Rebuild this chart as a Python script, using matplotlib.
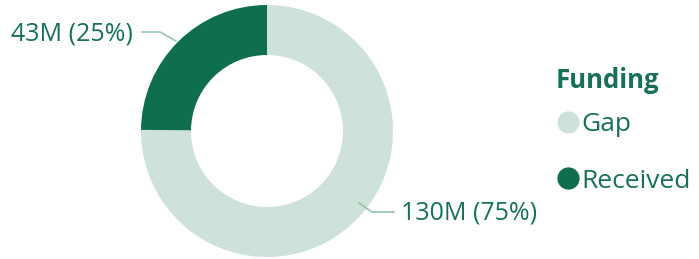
import matplotlib.pyplot as plt
from matplotlib.lines import Line2D

plt.rcParams['font.family'] = ['Open Sans', 'DejaVu Sans']

# Data
categories = ["Gap", "Received"]
values = [130, 43]          # millions
colors = ["#cfe2d9", "#0e6e4e"]
text_color = "#17705a"
line_color = "#93c4ae"

W, H = 699, 259
fig = plt.figure(figsize=(W / 100, H / 100), dpi=100)
ax = fig.add_axes([0, 0, 1, 1])

# Donut
cx, cy = 267, H - 131
wedges, _ = ax.pie(values, colors=colors, startangle=90, counterclock=False,
                   radius=126, center=(cx, cy), frame=True,
                   wedgeprops=dict(width=50, linewidth=0))
ax.set_xlim(0, W)
ax.set_ylim(0, H)
ax.set_aspect('equal')
ax.axis('off')

total = sum(values)
labels = [f"{v}M ({v / total:.0%})" for v in values]

# Leader lines + labels (pixel positions)
# Received (top-left)
ax.plot([176, 160, 142], [H - 41, H - 32, H - 32], color=line_color, lw=1.2)
ax.text(133, H - 34, labels[1], ha='right', va='center', fontsize=18, color=text_color)
# Gap (bottom-right)
ax.plot([359, 372, 394], [H - 203, H - 212, H - 212], color=line_color, lw=1.2)
ax.text(401, H - 213, labels[0], ha='left', va='center', fontsize=18, color=text_color)

# Legend
ax.text(556, H - 80, "Funding", ha='left', va='center', fontsize=18.5,
        fontweight='bold', color=text_color)
handles = [Line2D([0], [0], marker='o', linestyle='none', markersize=15,
                  markerfacecolor=c, markeredgecolor=c) for c in colors]
leg = ax.legend(handles, categories, loc='center left', bbox_to_anchor=(544 / W, 1 - 153 / H),
                frameon=False, fontsize=19, labelcolor=text_color,
                handletextpad=0.0, labelspacing=1.18, borderaxespad=0, handlelength=1.0)

fig.savefig("out.png", dpi=100)
